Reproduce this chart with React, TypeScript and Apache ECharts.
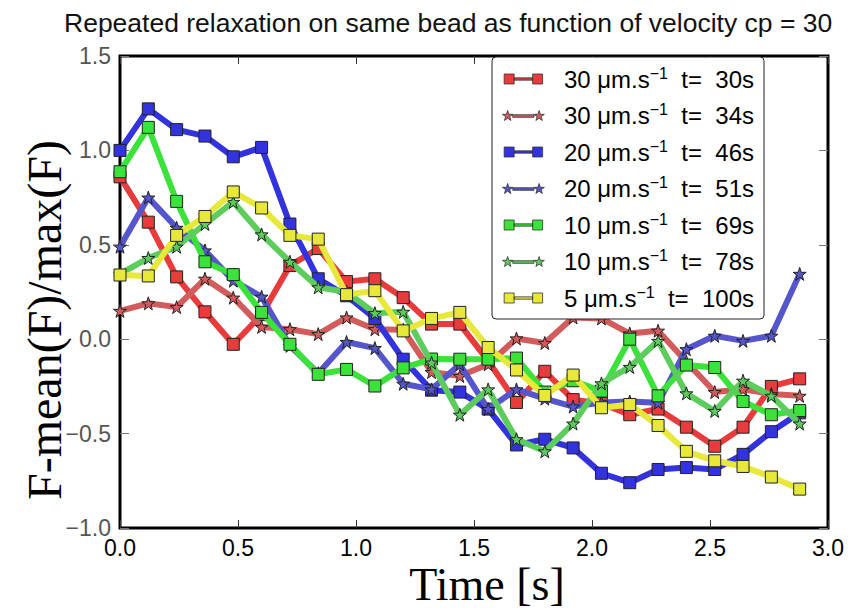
import React, { useEffect, useRef } from "react";
import * as echarts from "echarts";

// Time axis (s)
const timeS = [0.0, 0.12, 0.24, 0.36, 0.48, 0.6, 0.72, 0.84, 0.96, 1.08, 1.2, 1.32, 1.44, 1.56, 1.68, 1.8, 1.92, 2.04, 2.16, 2.28, 2.4, 2.52, 2.64, 2.76, 2.88];

// F-mean(F)/max(F) series
const v30t30 = [0.86, 0.62, 0.33, 0.145, -0.027, 0.13, 0.39, 0.48, 0.305, 0.32, 0.22, 0.08, 0.08, -0.115, -0.335, -0.17, -0.32, -0.34, -0.40, -0.37, -0.466, -0.567, -0.466, -0.25, -0.21];
const v30t34 = [0.15, 0.19, 0.17, 0.32, 0.22, 0.065, 0.053, 0.027, 0.115, 0.053, 0.05, -0.174, -0.195, -0.133, 0.004, -0.02, 0.115, 0.11, 0.03, 0.045, -0.12, -0.28, -0.265, -0.29, -0.30];
const v20t46 = [1.0, 1.22, 1.11, 1.076, 0.966, 1.016, 0.61, 0.32, 0.23, 0.11, -0.106, -0.27, -0.28, -0.37, -0.56, -0.53, -0.576, -0.71, -0.76, -0.69, -0.68, -0.69, -0.61, -0.49, -0.39];
const v20t51 = [0.49, 0.75, 0.59, 0.47, 0.31, 0.225, -0.035, -0.18, -0.015, -0.047, -0.236, -0.266, -0.133, -0.37, -0.266, -0.315, -0.357, -0.335, -0.33, -0.337, -0.053, 0.018, -0.009, 0.018, 0.346];
const v10t69 = [0.887, 1.122, 0.73, 0.41, 0.342, 0.142, -0.027, -0.186, -0.16, -0.248, -0.152, -0.105, -0.106, -0.106, -0.1, -0.28, -0.22, -0.275, 0.0, -0.30, -0.137, -0.15, -0.33, -0.40, -0.378];
const v10t78 = [0.346, 0.43, 0.49, 0.61, 0.727, 0.555, 0.41, 0.275, 0.25, 0.138, 0.145, -0.124, -0.40, -0.266, -0.53, -0.594, -0.447, -0.234, -0.147, -0.009, -0.287, -0.38, -0.22, -0.30, -0.447];
const v5t100 = [0.34, 0.335, 0.55, 0.65, 0.78, 0.695, 0.55, 0.53, 0.236, 0.257, 0.044, 0.11, 0.142, -0.044, -0.163, -0.298, -0.19, -0.363, -0.346, -0.457, -0.594, -0.644, -0.674, -0.73, -0.794];

const speeds = [30, 30, 20, 20, 10, 10, 5];
const startTimes = [30, 34, 46, 51, 69, 78, 100];
const seriesValues = [v30t30, v30t34, v20t46, v20t51, v10t69, v10t78, v5t100];
const markerKinds = ["square", "star", "square", "star", "square", "star", "square"];
const colors = ["#e83c3c", "#d25c5c", "#3333dd", "#5656cc", "#3ae23a", "#5ccc5c", "#e8e83a"];

const xTickLabels = ["0.0", "0.5", "1.0", "1.5", "2.0", "2.5", "3.0"];
const yTickLabels = ["\u22121.0", "\u22120.5", "0.0", "0.5", "1.0", "1.5"];

const STAR = "M13,0L15.94,8.95L25.36,8.98L17.76,14.55L20.64,23.52L13,18L5.36,23.52L8.24,14.55L0.64,8.98L10.06,8.95Z";
const STAR2 = "M87,0L89.94,8.95L99.36,8.98L91.76,14.55L94.64,23.52L87,18L79.36,23.52L82.24,14.55L74.64,8.98L84.06,8.95Z";
const LEG_SQ = "path://M0,0H26V26H0Z M26,10H74V16H26Z M74,0H100V26H74Z";
const LEG_STAR = "path://" + STAR + " M25,10H75V16H25Z " + STAR2;

const seriesName = (i: number) => `${speeds[i]} \u03bcm.s\u22121  t=  ${startTimes[i]}s`;

export default function App() {
  const ref = useRef<HTMLDivElement>(null);
  useEffect(() => {
    document.body.style.margin = "0";
    const chart = echarts.init(ref.current!, null, { renderer: "svg" });
    const names = speeds.map((_, i) => seriesName(i));
    const sans = "Liberation Sans, Arial, sans-serif";
    const tick = { inside: true, length: 8, lineStyle: { color: "#333", width: 1 } };
    const ytick = { inside: true, length: 9, lineStyle: { color: "#777", width: 1 } };
    const option: any = {
      animation: false,
      backgroundColor: "#fff",
      title: {
        text: "Repeated relaxation on same bead as function of velocity cp = 30",
        left: 59,
        top: 4,
        textStyle: { fontSize: 26.5, fontWeight: "normal", color: "#111", fontFamily: sans },
      },
      grid: { left: 120, top: 56, width: 708, height: 472, show: true, borderColor: "#000", borderWidth: 3, backgroundColor: "transparent" },
      legend: {
        orient: "vertical",
        left: 492,
        top: 57,
        padding: [8, 10, 8, 10],
        itemWidth: 43,
        itemHeight: 10,
        itemGap: 9.5,
        backgroundColor: "#fff",
        borderColor: "#222",
        borderWidth: 1,
        borderRadius: 4,
        data: names.map((n, i) => ({ name: n, icon: markerKinds[i] === "square" ? LEG_SQ : LEG_STAR })),
        itemStyle: { borderColor: "#333", borderWidth: 0.8 },
        formatter: (name: string) => {
          const i = names.indexOf(name);
          return `${speeds[i]} \u03bcm.s{sup|\u22121}  t=  ${startTimes[i]}s`;
        },
        textStyle: {
          fontSize: 24,
          lineHeight: 26,
          color: "#000",
          fontFamily: sans,
          padding: [0, 0, 0, 14],
          rich: { sup: { fontSize: 16, padding: [0, 0, 12, 0], fontFamily: sans, color: "#000" } },
        },
      },
      xAxis: [
        {
          type: "value", min: 0, max: 3, interval: 0.5, position: "bottom",
          axisLine: { show: false, onZero: false }, splitLine: { show: false },
          axisTick: tick,
          axisLabel: {
            formatter: (v: number) => xTickLabels[Math.round(v / 0.5)],
            fontSize: 23, fontFamily: sans, color: "#000", margin: 8,
          },
        },
        {
          type: "value", min: 0, max: 3, interval: 0.5, position: "top",
          axisLine: { show: false, onZero: false }, splitLine: { show: false },
          axisTick: tick,
          axisLabel: { show: false },
        },
      ],
      yAxis: [
        {
          type: "value", min: -1, max: 1.5, interval: 0.5, position: "left",
          axisLine: { show: false, onZero: false }, splitLine: { show: false },
          axisTick: ytick,
          axisLabel: {
            formatter: (v: number) => yTickLabels[Math.round((v + 1) / 0.5)],
            fontSize: 23, fontFamily: sans, color: "#555", margin: 9,
          },
        },
        {
          type: "value", min: -1, max: 1.5, interval: 0.5, position: "right",
          axisLine: { show: false, onZero: false }, splitLine: { show: false },
          axisTick: ytick,
          axisLabel: { show: false },
        },
      ],
      series: seriesValues.map((vals, i) => ({
        type: "line",
        name: names[i],
        xAxisIndex: 0,
        yAxisIndex: 0,
        z: 2 + i,
        data: timeS.map((t, j) => [t, vals[j]]),
        symbol: markerKinds[i] === "square" ? "rect" : "path://" + STAR,
        symbolSize: markerKinds[i] === "square" ? 12 : 13,
        showAllSymbol: true,
        lineStyle: { width: 6, color: colors[i] },
        itemStyle: { color: colors[i], borderColor: "#222", borderWidth: 1 },
        emphasis: { disabled: true },
      })),
      graphic: [
        {
          type: "text",
          x: 44,
          y: 320,
          rotation: Math.PI / 2,
          style: {
            text: "F-mean(F)/max(F)",
            font: "48px 'Liberation Serif', 'Times New Roman', serif",
            fill: "#000",
            align: "center",
            verticalAlign: "middle",
          },
        },
        {
          type: "text",
          x: 487,
          y: 584,
          style: {
            text: "Time [s]",
            font: "46px 'Liberation Serif', 'Times New Roman', serif",
            fill: "#000",
            align: "center",
            verticalAlign: "middle",
          },
        },
      ],
    };
    chart.setOption(option);
    return () => chart.dispose();
  }, []);
  return <div ref={ref} style={{ width: 853, height: 613 }} />;
}
